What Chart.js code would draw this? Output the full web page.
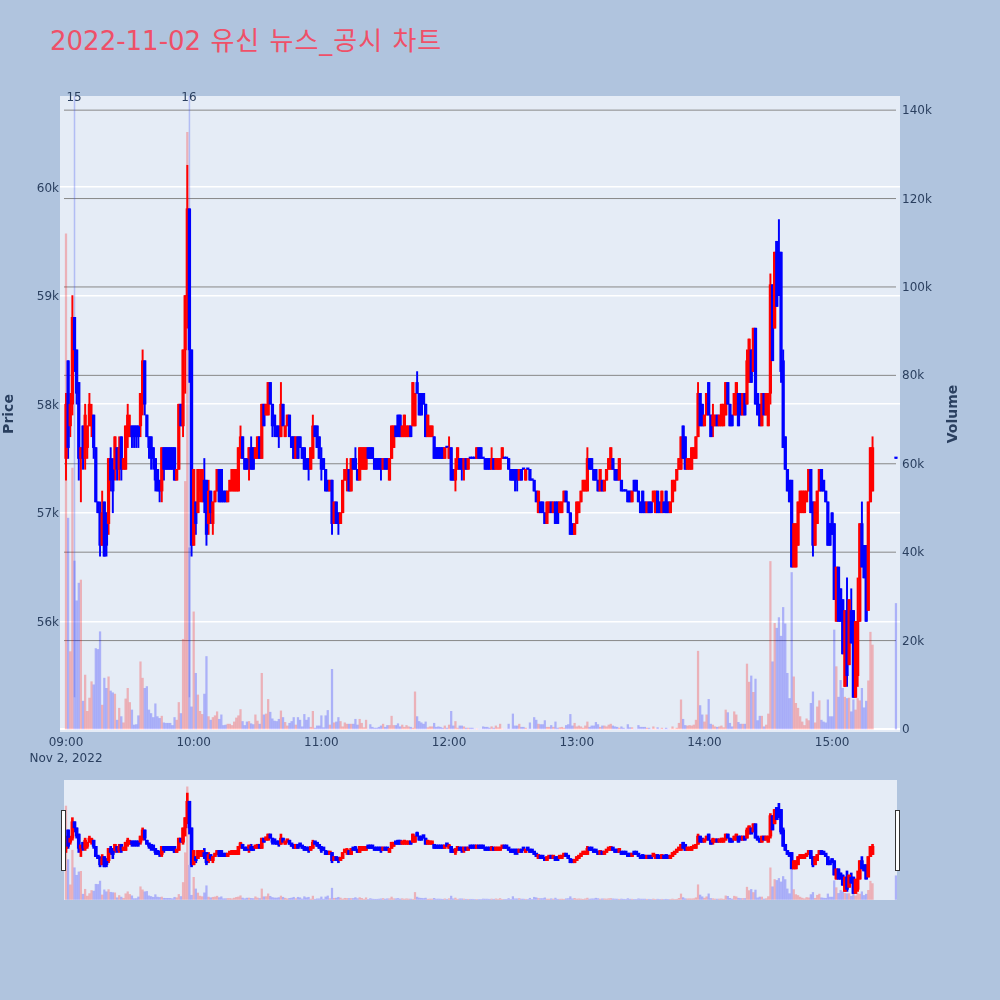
<!DOCTYPE html>
<html lang="ko">
<head>
<meta charset="utf-8">
<title>2022-11-02 유신 뉴스_공시 차트</title>
<script src="https://cdn.jsdelivr.net/npm/chart.js@4"></script>
<style>
  html, body { margin: 0; padding: 0; background: #b0c4de; width: 1000px; height: 1000px; overflow: hidden; }
  #title { position: absolute; left: 50px; top: 25px; font: 26px "DejaVu Sans", "Noto Sans CJK KR", sans-serif; line-height: 32px; color: #ef5068; white-space: nowrap; }
  #title span { letter-spacing: 1px; margin-left: 1px; }
  #mainChart { position: absolute; left: 0; top: 0; }
  #sliderChart { position: absolute; left: 64px; top: 780px; background: #e5ecf6; }
  .handle { position: absolute; top: 810px; width: 3px; height: 59px; background: #fff; border: 1px solid #333; }
</style>
</head>
<body>
<div id="title">2022-11-02 <span>유신 뉴스_공시 차트</span></div>
<canvas id="mainChart" width="1000" height="1000"></canvas>
<canvas id="sliderChart" width="833" height="120"></canvas>
<div class="handle" style="left:61px"></div>
<div class="handle" style="left:895px"></div>
<script>
// one slot per minute from 09:00, null where nothing traded
const opens = [
  57500,58400,57800,58000,58800,58500,58200,57500,57800,57500,
  57600,57800,57800,57900,57600,57100,57000,56700,57100,57000,
  56900,57500,57400,57400,57600,57400,57700,57400,57400,57700,
  57700,57800,57800,57800,57800,57800,58000,58400,57900,57700,
  57700,57600,57500,57400,57300,57200,57600,57600,57600,57600,
  57600,57600,57300,57400,58000,57800,58500,59000,59800,58500,
  56700,57100,57000,57200,57100,57300,57300,56900,57200,56900,
  57100,57200,57400,57400,57200,57200,57100,57200,57200,57200,
  57200,57200,57600,57700,57500,57500,57500,57600,57600,57500,
  57500,57700,57500,58000,57900,57900,58200,58000,57900,57800,
  57800,57700,58000,57700,57800,57900,57700,57700,57500,57700,
  57700,57600,57600,57500,57500,57400,57500,57800,57800,57700,
  57500,57500,57400,57300,57200,57300,56900,57100,57000,56900,
  57000,57300,57300,57400,57200,57500,57500,57400,57300,57400,
  57400,57400,57600,57600,57600,57500,57500,57500,57500,57400,
  57500,57500,57300,57500,57600,57800,57900,57900,57700,57700,
  57700,57700,57800,57800,57800,58200,58100,58100,58100,58000,
  57700,57700,57700,57700,57600,57600,57600,57600,57500,57600,
  57500,57600,57400,57300,57400,57500,57500,57400,57500,57400,
  57500,57500,57500,57500,57600,57600,57500,57500,57500,57500,
  57400,57500,57400,57400,57400,57500,57500,57500,57500,57400,
  57400,57400,57400,57300,57400,57400,57300,57400,57400,57300,
  57300,57200,57000,57100,57100,57000,56900,57000,57100,57000,
  57100,57100,57000,57000,57100,57200,57100,57000,56900,56800,
  56900,57000,57100,57200,57200,57200,57500,57500,57400,57400,
  57300,57200,57300,57200,57300,57400,57400,57500,57400,57400,
  57300,57300,57200,57200,57200,57200,57100,57300,57300,57200,
  57100,57200,57100,57000,57100,57100,57100,57000,57200,57100,
  57000,57100,57200,57100,57000,57100,57200,57300,57400,57400,
  57800,57700,57400,57400,57400,57500,57500,57700,58100,58000,
  57800,57900,58200,57900,57800,57800,57900,57800,57800,57800,
  57900,58200,58000,57900,57900,57900,58100,58100,57900,58100,
  58000,58200,58500,58300,58700,58100,58000,57800,58100,57900,
  57800,58100,59100,58700,59500,59400,59400,58400,57700,57400,
  57300,57300,56500,56500,56700,57000,57000,57000,57100,57200,
  57400,57100,56700,56900,57200,57400,57300,57200,57100,56900,
  57000,56900,56000,56500,56300,56200,55400,56100,55600,56100,
  56100,55300,55500,56000,56900,56700,56700,56100,57100,57200,
  null,null,null,null,null,null,null,null,null,null,
  57500
];
const highs = [
  58100,58400,58100,59000,58800,58500,58200,57600,57800,58000,
  57800,58100,58000,57900,57600,57100,57100,57200,57100,57000,
  57500,57600,57500,57700,57600,57700,57700,57500,57800,58000,
  57900,57800,57800,57800,57800,58100,58500,58400,57900,57700,
  57700,57600,57500,57400,57300,57600,57600,57600,57600,57600,
  57600,57600,57400,58000,58000,58500,59000,60200,59800,58500,
  57400,57100,57400,57400,57400,57500,57300,57300,57200,57100,
  57200,57400,57400,57400,57200,57200,57200,57300,57400,57400,
  57400,57600,57800,57700,57500,57500,57600,57700,57600,57600,
  57700,57700,58000,58000,58000,58200,58200,58000,57900,57800,
  57800,58200,58000,57800,57900,57900,57700,57700,57700,57700,
  57700,57600,57600,57500,57500,57600,57900,57800,57800,57700,
  57600,57500,57400,57300,57300,57300,57100,57100,57000,57000,
  57300,57400,57500,57400,57500,57500,57600,57400,57600,57600,
  57600,57600,57600,57600,57600,57500,57500,57500,57500,57500,
  57500,57500,57500,57800,57800,57800,57900,57900,57800,57900,
  57800,57800,57800,58200,58100,58300,58100,58100,58100,58000,
  57900,57800,57800,57700,57600,57600,57600,57600,57600,57600,
  57700,57600,57400,57500,57600,57500,57500,57500,57500,57500,
  57500,57500,57500,57600,57600,57600,57500,57500,57500,57500,
  57600,57500,57500,57500,57500,57600,57500,57500,57500,57400,
  57400,57400,57400,57400,57400,57400,57400,57400,57400,57300,
  57300,57200,57200,57100,57100,57000,57100,57100,57100,57100,
  57100,57100,57100,57100,57200,57200,57100,57000,56900,56900,
  57100,57100,57200,57300,57300,57600,57500,57500,57400,57400,
  57300,57400,57300,57300,57400,57500,57600,57500,57400,57400,
  57500,57300,57200,57200,57200,57200,57200,57300,57300,57200,
  57100,57200,57100,57100,57100,57100,57200,57200,57200,57100,
  57200,57100,57200,57100,57100,57300,57300,57400,57500,57700,
  57800,57700,57500,57500,57600,57600,57700,58200,58100,58000,
  57900,58100,58200,57900,58000,57900,57900,57900,58000,58000,
  58200,58200,58000,57900,58100,58200,58100,58100,58100,58100,
  58500,58600,58500,58700,58700,58100,58000,58100,58100,58100,
  58100,59200,59100,59400,59500,59700,59400,58500,57700,57400,
  57300,57300,56900,56900,57100,57200,57200,57200,57200,57400,
  57400,57100,57100,57200,57400,57400,57300,57200,57100,56900,
  57000,56900,56500,56500,56300,56200,56100,56400,56200,56300,
  56100,56000,56400,56900,57100,56700,56700,57100,57600,57700,
  null,null,null,null,null,null,null,null,null,null,
  57500
];
const lows = [
  57300,57500,57700,57900,58300,58000,57300,57100,57400,57400,
  57500,57800,57700,57500,57100,57000,56600,56700,56600,56600,
  56800,57200,57000,57300,57300,57300,57300,57400,57400,57600,
  57700,57600,57600,57600,57600,57700,57900,57900,57700,57500,
  57400,57400,57200,57200,57100,57100,57300,57400,57400,57400,
  57400,57300,57300,57400,57800,57700,58100,58700,58200,56600,
  56700,56800,57000,57100,57100,57000,56700,56800,56900,56800,
  57100,57200,57100,57100,57100,57100,57100,57200,57200,57200,
  57200,57200,57500,57500,57400,57400,57300,57400,57400,57500,
  57500,57500,57500,57800,57900,57900,58000,57700,57700,57700,
  57600,57700,57800,57700,57800,57700,57600,57500,57500,57500,
  57600,57500,57400,57400,57300,57400,57500,57700,57600,57500,
  57300,57400,57200,57200,57200,56800,56900,56900,56800,56900,
  57000,57300,57200,57200,57200,57400,57400,57300,57300,57400,
  57400,57400,57500,57500,57500,57400,57400,57400,57300,57400,
  57400,57400,57300,57500,57600,57700,57700,57700,57700,57700,
  57700,57700,57700,57800,57800,58100,57900,57900,58000,57700,
  57700,57700,57700,57500,57500,57500,57500,57500,57500,57600,
  57500,57300,57300,57200,57400,57400,57300,57300,57400,57400,
  57500,57500,57500,57500,57500,57500,57500,57400,57400,57400,
  57400,57400,57400,57400,57400,57500,57500,57500,57400,57300,
  57300,57200,57200,57300,57300,57400,57300,57400,57300,57300,
  57200,57100,57000,57000,57000,56900,56900,57000,57000,57000,
  56900,56900,57000,57000,57100,57100,57000,56800,56800,56800,
  56900,57000,57100,57200,57200,57200,57400,57400,57300,57300,
  57200,57200,57200,57200,57300,57400,57400,57400,57300,57300,
  57300,57200,57200,57200,57100,57100,57100,57200,57200,57100,
  57000,57000,57000,57000,57000,57000,57100,57000,57000,57000,
  57000,57000,57000,57000,57000,57100,57200,57300,57400,57400,
  57500,57400,57400,57400,57400,57500,57500,57700,57800,57800,
  57800,57900,57900,57700,57700,57800,57800,57800,57800,57800,
  57900,58000,57800,57800,57900,57900,57800,57900,57900,57900,
  58000,58200,58200,58300,58000,57900,57800,57800,57900,57900,
  57800,58000,58400,58700,58900,59000,58200,57600,57400,57200,
  57100,56500,56500,56500,56700,57000,57000,57000,57100,57200,
  57000,56600,56700,56900,57200,57200,57200,57100,56700,56700,
  56800,56200,56000,56000,56000,55700,55400,55400,55600,55800,
  55300,55300,55400,56000,56500,56400,56000,56100,57100,57200,
  null,null,null,null,null,null,null,null,null,null,
  57500
];
const closes = [
  58000,57600,58000,58800,58500,58100,57500,57600,57500,57900,
  57800,58000,57900,57600,57100,57000,56700,57000,56600,56700,
  57500,57300,57200,57700,57400,57600,57400,57500,57800,57900,
  57800,57700,57700,57700,57700,58100,58400,58000,57700,57600,
  57500,57500,57300,57200,57200,57600,57400,57400,57400,57400,
  57400,57300,57400,58000,57800,58500,59000,59800,58500,56700,
  57400,56900,57400,57300,57400,57100,56800,57200,57000,57100,
  57200,57400,57100,57100,57100,57100,57200,57300,57400,57400,
  57400,57600,57700,57500,57400,57400,57600,57400,57400,57600,
  57700,57500,58000,57800,58000,58200,58000,57800,57800,57700,
  57700,58000,57800,57800,57900,57700,57600,57500,57700,57500,
  57600,57500,57400,57400,57400,57600,57800,57700,57600,57500,
  57400,57400,57200,57200,57300,56900,57100,56900,56900,57000,
  57300,57400,57400,57200,57500,57400,57400,57300,57600,57600,
  57600,57600,57500,57500,57500,57400,57400,57400,57400,57500,
  57400,57400,57500,57800,57800,57700,57700,57700,57800,57900,
  57800,57800,57700,58200,58100,58100,57900,57900,58000,57700,
  57900,57800,57800,57500,57500,57500,57500,57500,57600,57600,
  57600,57300,57300,57400,57600,57400,57400,57500,57400,57500,
  57500,57500,57500,57600,57500,57500,57500,57400,57400,57400,
  57500,57400,57500,57500,57500,57600,57500,57500,57400,57300,
  57300,57300,57300,57400,57300,57400,57400,57400,57300,57300,
  57200,57100,57200,57000,57000,56900,57100,57100,57000,57100,
  56900,56900,57100,57100,57200,57100,57000,56800,56800,56900,
  57100,57100,57200,57300,57300,57500,57400,57400,57300,57300,
  57200,57400,57200,57300,57400,57500,57600,57400,57300,57300,
  57500,57200,57200,57200,57100,57100,57200,57200,57200,57100,
  57000,57000,57000,57100,57000,57000,57200,57200,57000,57000,
  57200,57000,57000,57000,57100,57300,57300,57400,57500,57700,
  57500,57400,57500,57500,57600,57600,57700,58100,57800,57800,
  57900,58100,57900,57700,57900,57900,57800,57900,58000,58000,
  58200,58000,57800,57800,58100,58200,57800,57900,58100,57900,
  58400,58600,58200,58700,58000,57900,57800,58100,57900,58100,
  58100,59100,58400,59400,58900,59000,58300,57600,57400,57200,
  57100,56500,56900,56900,57100,57200,57200,57200,57200,57400,
  57000,56700,57100,57200,57400,57200,57200,57100,56700,56700,
  56800,56200,56500,56000,56000,55700,56100,55500,56200,55800,
  55300,56000,56000,56900,56500,56400,56000,57100,57600,57600,
  null,null,null,null,null,null,null,null,null,null,
  57500
];
// thousands of shares
const volumes = [
  112,47.7,17.5,59,38,29,33,33.7,6.3,12.2,
  4,7,10.7,10,18.2,18,22,5.4,11.5,9.2,
  11.8,8.6,8.2,7.9,2,4.7,2.8,1.4,6.8,9.2,
  6,4.3,.9,1,3,15.2,11.5,9.2,9.6,4.3,
  3.5,2.6,5.7,2.8,2.4,2.9,1.4,1.3,1.3,1.3,
  .8,2.6,2,6,3.5,20.3,56,135,41,5,
  26.5,12.6,7.7,4,3.3,7.9,16.4,2.8,2,2.6,
  3,3.9,2.2,3.2,.8,.9,1.1,1.1,.8,1.6,
  2.5,3,4.4,1.7,.8,1.6,1.7,1.2,1,3.2,
  1.8,1.1,12.6,3.2,3.4,6.7,3.8,2.3,1.8,1.7,
  2.2,4.1,2.6,1.5,.7,1.3,1.7,2.6,.9,2.6,
  2,.5,3.3,2,2.6,.4,4,.2,.7,.7,
  3,.3,3,4.2,.9,13.5,1.4,1.6,2.6,1.7,
  .5,1.4,1.1,1.1,1.1,1.1,2.2,.9,2.2,1.3,
  .3,2,0,1,.4,.2,.2,.4,.7,1.1,
  .4,.8,.8,2.9,.8,.8,1.2,.5,.9,.4,
  .8,.5,.4,.2,8.4,2.8,1.7,1.4,1.1,1.6,
  .3,.5,.5,1.3,.4,.5,.4,.2,.7,.2,
  .9,4,.7,1.7,.2,.7,.7,.5,.2,.2,
  .2,.2,0,0,0,0,.5,.4,.4,.2,
  .5,.2,.7,.3,1.1,0,0,0,1.1,0,
  3.4,.7,.7,1.1,.4,.4,.2,0,1.4,0,
  2.6,2,1.1,1,1,1.9,.4,.4,.8,.4,
  1.6,.2,.3,.4,.2,.8,1,3.3,.7,1.3,
  .5,.7,.5,.2,.7,1.6,.4,.7,.7,1.5,
  1,.4,.7,.7,.5,.9,1.1,.7,.5,.4,
  .2,.5,.2,0,1,.3,.3,0,0,.8,
  .4,.4,.4,.2,.2,0,.5,0,.3,0,
  .2,0,.2,0,0,.5,0,.2,1.3,6.6,
  2.2,.8,.7,.8,.7,.9,2,17.6,5.3,3.2,
  1.6,3.2,6.7,1.1,.9,.5,.4,.5,.7,.3,
  4.3,3.7,1.3,.5,3.9,3.2,1.5,1.1,1.1,1.1,
  14.7,10.6,12,8.3,11.3,1.9,2.9,2.9,.5,.9,
  3.4,37.9,15.2,23.9,22.8,25.2,21,27.5,23.8,12.6,
  6.9,35.4,11.8,5.8,4.7,2.8,1.6,.8,2.3,1.9,
  5.8,8.4,1.4,5,6.4,2,1.6,1.4,6.6,2.8,
  2.8,22.4,14.1,7.2,11,9.2,7.2,6.9,7,3.9,
  6.6,4.3,6.9,6.4,9.2,4.8,6.3,10.9,21.9,19,
  0,0,0,0,0,0,0,0,0,0,
  28.4
];

const priceTicks = [56000, 57000, 58000, 59000, 60000];
const priceTickLabels = ['56k', '57k', '58k', '59k', '60k'];
const volumeTicks = [0, 20, 40, 60, 80, 100, 120, 140];
const volumeTickLabels = ['0', '20k', '40k', '60k', '80k', '100k', '120k', '140k'];
const timeTicks = [0, 60, 120, 180, 240, 300, 360];
const timeLabels = [['09:00', 'Nov 2, 2022'], '10:00', '11:00', '12:00', '13:00', '14:00', '15:00'];
const newsMinutes = [4, 58];
const newsLabels = ['15', '16'];
const newsLineTop = 60838;
const newsLineBottom = 55302;

const PRICE_MIN = 54981, PRICE_MAX = 60838;
const VOLUME_MIN = -0.68, VOLUME_MAX = 143.2;
const FONT = '"DejaVu Sans", verdana, arial, sans-serif';

const slots = opens.map((o, i) => i).filter(i => opens[i] !== null);
const isUp = i => closes[i] > opens[i];
const candleColor = i => isUp(i) ? '#ff0000' : '#0000ff';

function candleDatasets(list, minBody, bodyWidth, wickWidth) {
  // first dataset ends up on top
  return [
    {
      type: 'bar', label: 'body', yAxisID: 'price', grouped: false,
      data: list.map(i => ({x: i, y: [opens[i], closes[i]]})),
      backgroundColor: list.map(candleColor), barThickness: bodyWidth, minBarLength: minBody
    },
    {
      type: 'bar', label: 'wick', yAxisID: 'price', grouped: false,
      data: list.map(i => ({x: i, y: [lows[i], highs[i]]})),
      backgroundColor: list.map(candleColor), barThickness: wickWidth
    }
  ];
}
const volumeDataset = () => ({
  type: 'bar', label: 'Volume', yAxisID: 'volume', grouped: false,
  data: slots.map(i => ({x: i, y: volumes[i]})),
  backgroundColor: slots.map(i => isUp(i) ? 'rgba(255,0,0,0.25)' : 'rgba(0,0,255,0.25)'),
  barThickness: 1.6
});
const newsDatasets = newsMinutes.map(m => ({
  type: 'line', label: 'news', yAxisID: 'price',
  data: [{x: m, y: newsLineTop}, {x: m, y: newsLineBottom}],
  borderColor: 'rgba(60,80,240,0.3)', borderWidth: 1.5, pointRadius: 0
}));

Chart.defaults.font.family = FONT;
Chart.defaults.font.size = 12;
Chart.defaults.color = '#2a3f5f';
Chart.defaults.animation = false;

const plotBackground = {
  id: 'plotBackground',
  beforeDraw(chart) {
    const a = chart.chartArea;
    chart.ctx.fillStyle = '#e5ecf6';
    chart.ctx.fillRect(a.left, a.top, a.width, a.height);
  }
};
// the volume grid stops short of the plot edges, so it is drawn here
const volumeGrid = {
  id: 'volumeGrid',
  beforeDatasetsDraw(chart) {
    const ctx = chart.ctx, a = chart.chartArea, y = chart.scales.volume;
    ctx.save();
    volumeTicks.forEach(v => {
      ctx.beginPath();
      ctx.strokeStyle = v === 0 ? '#ffffff' : '#888888';
      ctx.lineWidth = v === 0 ? 2 : 1;
      ctx.moveTo(v === 0 ? a.left : a.left + 4, y.getPixelForValue(v));
      ctx.lineTo(v === 0 ? a.right : a.right - 4, y.getPixelForValue(v));
      ctx.stroke();
    });
    ctx.restore();
  }
};
// y tick labels sit a little below the scale's own position, so they are drawn here too
const extraText = {
  id: 'extraText',
  afterDraw(chart) {
    const ctx = chart.ctx, x = chart.scales.x, a = chart.chartArea;
    const price = chart.scales.price, volume = chart.scales.volume;
    ctx.save();
    ctx.fillStyle = '#2a3f5f';
    ctx.textBaseline = 'middle';
    ctx.font = '12px ' + FONT;
    ctx.textAlign = 'right';
    priceTicks.forEach((v, i) => ctx.fillText(priceTickLabels[i], a.left - 1, price.getPixelForValue(v) + 1.5));
    ctx.textAlign = 'left';
    volumeTicks.forEach((v, i) => ctx.fillText(volumeTickLabels[i], a.right + 2, volume.getPixelForValue(v) + 1));
    ctx.textAlign = 'center';
    newsMinutes.forEach((m, i) => ctx.fillText(newsLabels[i], x.getPixelForValue(m) - 0.5, a.top + 2));
    ctx.font = 'bold 14px ' + FONT;
    [['Price', 9, 414], ['Volume', 953, 414]].forEach(t => {
      ctx.save();
      ctx.translate(t[1], t[2]);
      ctx.rotate(-Math.PI / 2);
      ctx.fillText(t[0], 0, 0);
      ctx.restore();
    });
    ctx.restore();
  }
};

new Chart(document.getElementById('mainChart'), {
  data: { datasets: [...candleDatasets(slots, 1.5, 2.6, 1.3), ...newsDatasets, volumeDataset()] },
  options: {
    responsive: false,
    layout: { padding: { top: 96, left: 0, right: 0, bottom: 0 } },
    plugins: { legend: { display: false }, tooltip: { enabled: false } },
    scales: {
      x: {
        type: 'linear', min: -2.82, max: 391.9, offset: false,
        grid: { display: false, drawTicks: false, offset: false }, border: { display: false },
        afterBuildTicks: s => { s.ticks = timeTicks.map(v => ({value: v})); },
        afterFit: s => { s.height = 268; },
        ticks: {
          autoSkip: false, maxRotation: 0, padding: 2, font: { lineHeight: 1.4 },
          callback: v => timeLabels[timeTicks.indexOf(v)]
        }
      },
      price: {
        type: 'linear', position: 'left', min: PRICE_MIN, max: PRICE_MAX,
        grid: { color: '#ffffff', lineWidth: 1.5, drawTicks: false }, border: { display: false },
        afterBuildTicks: s => { s.ticks = priceTicks.map(v => ({value: v})); },
        afterFit: s => { s.width = 60; },
        ticks: { display: false }
      },
      volume: {
        type: 'linear', position: 'right', min: VOLUME_MIN, max: VOLUME_MAX,
        grid: { display: false, drawTicks: false }, border: { display: false },
        afterBuildTicks: s => { s.ticks = volumeTicks.map(v => ({value: v})); },
        afterFit: s => { s.width = 100; },
        ticks: { display: false }
      }
    }
  },
  plugins: [plotBackground, volumeGrid, extraText]
});

new Chart(document.getElementById('sliderChart'), {
  data: { datasets: [...candleDatasets(slots.slice(0, -1), 3.5, 3, 2), volumeDataset()] },
  options: {
    responsive: false,
    plugins: { legend: { display: false }, tooltip: { enabled: false } },
    scales: {
      x: { type: 'linear', min: -0.94, max: 390.5, offset: false, display: false },
      price: { type: 'linear', min: PRICE_MIN, max: PRICE_MAX, display: false },
      volume: { type: 'linear', min: VOLUME_MIN, max: VOLUME_MAX, display: false }
    }
  }
});
</script>
</body>
</html>
